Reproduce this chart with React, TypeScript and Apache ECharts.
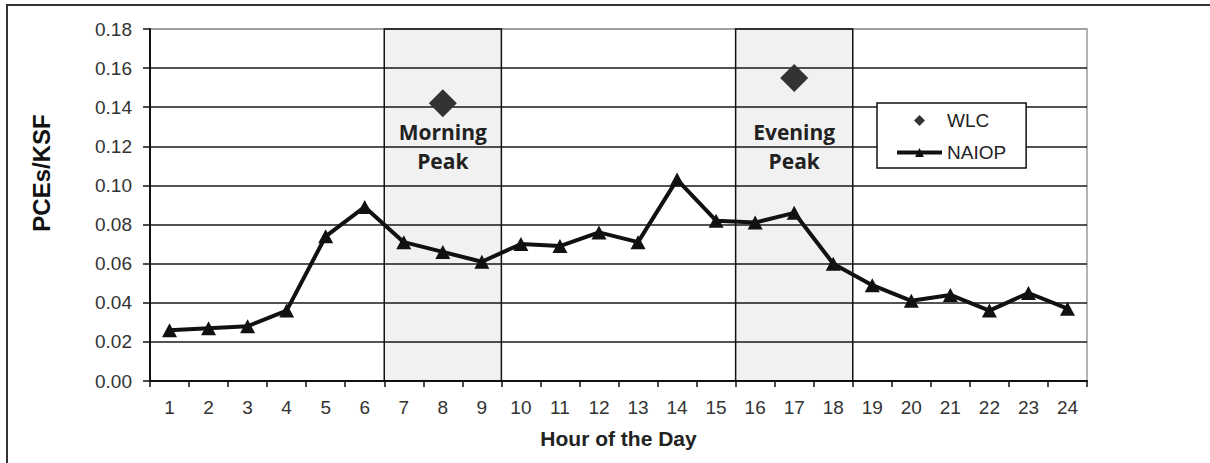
import React, { useEffect, useRef } from "react";
import * as echarts from "echarts";

const hours = ["1","2","3","4","5","6","7","8","9","10","11","12","13","14","15","16","17","18","19","20","21","22","23","24"];
const naiop = [0.026, 0.027, 0.028, 0.036, 0.074, 0.089, 0.071, 0.066, 0.061, 0.070, 0.069, 0.076, 0.071, 0.103, 0.082, 0.081, 0.086, 0.060, 0.049, 0.041, 0.044, 0.036, 0.045, 0.037];
const wlc = [null, null, null, null, null, null, null, 0.142, null, null, null, null, null, null, null, null, 0.155, null, null, null, null, null, null, null];
const peakNames = ["Morning\nPeak", "Evening\nPeak"];
const peakStartHour = [7, 16];
const peakEndHour = [9, 18];
const yTicks = [0, 0.02, 0.04, 0.06, 0.08, 0.1, 0.12, 0.14, 0.16, 0.18];

export default function App() {
  const ref = useRef<HTMLDivElement>(null);
  useEffect(() => {
    document.body.style.margin = "0";
    const chart = echarts.init(ref.current!, null, { renderer: "svg" });
    const sans = "'Liberation Sans', Arial, sans-serif";
    const splitColors = yTicks.map((v, i) => (i === yTicks.length - 1 ? "#9a9a9a" : "#1a1a1a"));
    chart.setOption({
      animation: false,
      backgroundColor: "#fff",
      grid: { left: 150, right: 123, top: 29, bottom: 82, show: true, borderColor: "#9a9a9a", borderWidth: 1.5, backgroundColor: "transparent" },
      legend: {
        data: [
          { name: "WLC", icon: "path://M5,0L10,5L5,10L0,5Z" },
          { name: "NAIOP", lineStyle: { width: 4, color: "#111" } },
        ],
        orient: "vertical",
        left: 877,
        top: 103,
        padding: [8, 20, 6, 18],
        itemWidth: 45,
        itemHeight: 11,
        itemGap: 13,
        symbolKeepAspect: true,
        backgroundColor: "#fff",
        borderColor: "#111",
        borderWidth: 1.5,
        textStyle: { fontFamily: sans, fontSize: 19, color: "#222" },
      },
      xAxis: [
        {
          type: "category",
          data: hours,
          boundaryGap: true,
          name: "Hour of the Day",
          nameLocation: "middle",
          nameGap: 47,
          nameTextStyle: { fontFamily: sans, fontSize: 21, fontWeight: "bold", color: "#222" },
          axisLine: { lineStyle: { color: "#111", width: 2 } },
          axisTick: { show: true, length: 6, lineStyle: { color: "#111", width: 1.5 } },
          axisLabel: { fontFamily: sans, fontSize: 19, color: "#333", margin: 17, interval: 0 },
          splitLine: { show: false },
        },
        {
          type: "value",
          min: 0,
          max: 24,
          show: false,
        },
      ],
      yAxis: {
        type: "value",
        min: 0,
        max: 0.18,
        interval: 0.02,
        axisLine: { show: true, lineStyle: { color: "#111", width: 2 } },
        axisTick: { show: true, length: 7, lineStyle: { color: "#111", width: 1.5 } },
        axisLabel: { fontFamily: sans, fontSize: 19, color: "#333", margin: 18, formatter: (v: number) => v.toFixed(2) },
        splitLine: { show: true, lineStyle: { color: splitColors, width: 1.5 } },
      },
      graphic: [
        { type: "rect", shape: { x: 7, y: 5, width: 1230, height: 480 }, style: { fill: "none", stroke: "#333", lineWidth: 2 }, silent: true },
        { type: "text", x: 41, y: 173, rotation: Math.PI / 2, style: { text: "PCEs/KSF", font: "bold 24px 'Liberation Sans', Arial, sans-serif", fill: "#111", textAlign: "center", textVerticalAlign: "middle" } },
      ],
      series: [
        {
          name: "peaks",
          type: "line",
          xAxisIndex: 1,
          data: [],
          silent: true,
          markArea: {
            silent: true,
            itemStyle: { color: "rgba(0,0,0,0.055)", borderColor: "#111", borderWidth: 1.5 },
            label: {
              show: true,
              position: ["50%", 89],
              align: "center",
              verticalAlign: "top",
              fontFamily: "'Open Sans', sans-serif",
              fontWeight: "bold",
              fontSize: 21,
              lineHeight: 29,
              color: "#222",
            },
            data: peakNames.map((n, i) => [
              { name: n, xAxis: peakStartHour[i] - 1 },
              { xAxis: peakEndHour[i] },
            ]),
          },
        },
        {
          name: "WLC",
          type: "scatter",
          data: wlc,
          symbol: "diamond",
          symbolSize: 28,
          itemStyle: { color: "#333", opacity: 1 },
          z: 4,
        },
        {
          name: "NAIOP",
          type: "line",
          data: naiop,
          symbol: "triangle",
          symbolSize: [15, 14],
          showAllSymbol: true,
          lineStyle: { color: "#111", width: 4 },
          itemStyle: { color: "#111" },
          z: 5,
        },
      ],
    });
    return () => chart.dispose();
  }, []);
  return <div ref={ref} style={{ width: 1210, height: 463 }} />;
}
